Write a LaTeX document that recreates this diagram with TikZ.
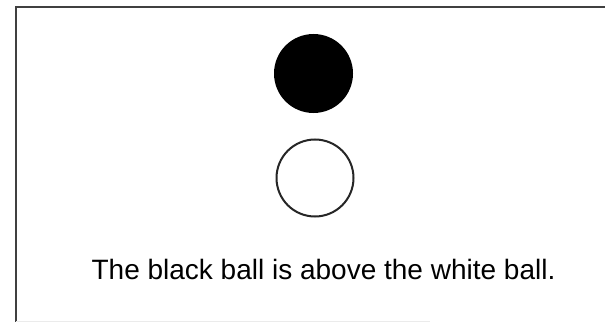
\documentclass[tikz,border=0pt]{standalone}
\usepackage{fontspec}
\setmainfont{Liberation Sans}
\begin{document}
\begin{tikzpicture}[x=1pt,y=1pt,
  frameline/.style={line width=2.4pt, draw=black!75},
  ball/.style={circle, minimum size=77pt, inner sep=0pt, line width=2pt},
  caption/.style={font=\fontsize{28}{30}\selectfont, inner sep=0pt, anchor=base}]
\useasboundingbox (0,0) rectangle (605,322);
\coordinate (tl) at (16,315);
\coordinate (tr) at (605,315);
\coordinate (bl) at (16,0);
\draw[frameline] (tr) -- (tl) -- (bl);
\draw[line width=1pt, draw=black!8] (16,1) -- (430,1);
\node[ball, fill=black, draw=black] (blackball) at (313.5,248.5) {};
\node[ball, fill=white, draw=black!85] (whiteball) at (315,144) {};
\node[caption] (label) at (323.5,43) {The black ball is above the white ball.};
\end{tikzpicture}
\end{document}
